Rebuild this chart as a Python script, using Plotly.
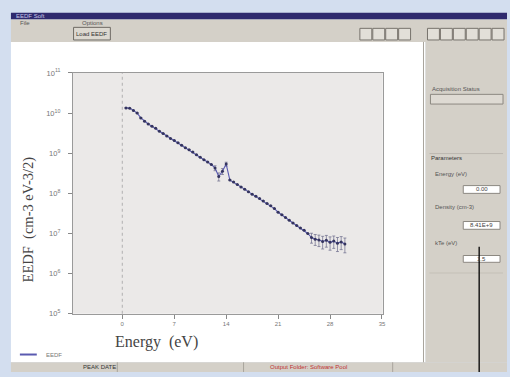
import plotly.graph_objects as go

# ---- data ----
energy_eV = [0.5, 1.0, 1.5, 2.0, 2.5, 3.0, 3.5, 4.0, 4.5, 5.0,
             5.5, 6.0, 6.5, 7.0, 7.5, 8.0, 8.5, 9.0, 9.5, 10.0,
             10.5, 11.0, 11.5, 12.0, 12.5, 13.0, 13.5, 14.0, 14.5, 15.0,
             15.5, 16.0, 16.5, 17.0, 17.5, 18.0, 18.5, 19.0, 19.5, 20.0,
             20.5, 21.0, 21.5, 22.0, 22.5, 23.0, 23.5, 24.0, 24.5, 25.0,
             25.5, 26.0, 26.5, 27.0, 27.5, 28.0, 28.5, 29.0, 29.5, 30.0]
eedf = [1.35e10, 1.32e10, 1.17e10, 1.00e10, 7.59e9, 6.31e9, 5.37e9, 4.68e9, 4.17e9, 3.55e9,
        3.09e9, 2.69e9, 2.34e9, 2.09e9, 1.82e9, 1.58e9, 1.38e9, 1.23e9, 1.07e9, 9.12e8,
        7.94e8, 6.92e8, 6.03e8, 5.25e8, 4.27e8, 2.63e8, 3.55e8, 5.37e8, 2.14e8, 1.91e8,
        1.66e8, 1.45e8, 1.26e8, 1.10e8, 9.55e7, 8.51e7, 7.41e7, 6.46e7, 5.62e7, 4.90e7,
        4.17e7, 3.39e7, 2.95e7, 2.51e7, 2.14e7, 1.82e7, 1.58e7, 1.38e7, 1.20e7, 1.00e7,
        7.94e6, 7.24e6, 6.92e6, 6.31e6, 6.76e6, 6.03e6, 6.46e6, 5.75e6, 6.17e6, 5.50e6]
eedf_err = [0, 0, 0, 0, 0, 0, 0, 0, 0, 0,
            0, 0, 0, 0, 0, 0, 0, 0, 0, 0,
            0, 0, 0, 0, 6e7, 6e7, 6e7, 6e7, 0, 0,
            0, 0, 0, 0, 0, 0, 0, 0, 0, 0,
            0, 0, 0, 0, 0, 0, 0, 0, 0, 0,
            2.2e6, 2.2e6, 2.2e6, 2.2e6, 2.2e6, 2.2e6, 2.2e6, 2.2e6, 2.2e6, 2.2e6]
x_ticks = [0, 7, 14, 21, 28, 35]

W, H = 510, 377
def X(p): return p / W
def Y(p): return 1 - p / H

fig = go.Figure()
fig.add_trace(go.Scatter(
    x=energy_eV, y=eedf, mode="lines+markers", name="EEDF",
    line=dict(color="#5a5ab0", width=1.1),
    marker=dict(color="#34345e", size=3),
    error_y=dict(type="data", array=eedf_err, color="#6a6a8a", thickness=0.7, width=1.5),
    showlegend=False, hoverinfo="skip",
))

shapes = []
def rect(x0, y0, x1, y1, fill, line=None, lw=0):
    shapes.append(dict(type="rect", xref="paper", yref="paper",
                       x0=X(x0), x1=X(x1), y0=Y(y1), y1=Y(y0),
                       fillcolor=fill, line=dict(color=line or fill, width=lw), layer="below"))
def hline(x0, x1, y, color, w=1):
    shapes.append(dict(type="line", xref="paper", yref="paper",
                       x0=X(x0), x1=X(x1), y0=Y(y), y1=Y(y), line=dict(color=color, width=w)))
def vline(x, y0, y1, color, w=1):
    shapes.append(dict(type="line", xref="paper", yref="paper",
                       x0=X(x), x1=X(x), y0=Y(y0), y1=Y(y1), line=dict(color=color, width=w)))

GRAY = "#d4d0c8"
# window frame
rect(11, 7, 510, 14, "#2f2a6e")
rect(11, 14, 510, 37, GRAY)
rect(11, 37, 428, 367, "#ffffff")
rect(73, 69, 385, 317, "#ebe9e8")   # plot background
rect(428, 37, 510, 367, GRAY)
vline(426, 37, 367, "#a8a49c")
rect(11, 367, 510, 377, GRAY)
vline(118, 367, 377, "#a8a49c")
vline(245, 367, 377, "#a8a49c")
vline(395, 367, 377, "#a8a49c")
# load button
rect(74, 22, 111, 35, "#dcd8d0", "#6e6a64", 1)
# toolbar buttons
for x0 in [362, 375, 388, 401]:
    rect(x0, 23, x0 + 12, 35, "#e2dfd8", "#77736c", 1)
for x0 in [430, 443, 456, 469, 482, 495]:
    rect(x0, 23, x0 + 12, 35, "#e2dfd8", "#77736c", 1)
# right panel widgets
rect(433, 91, 506, 101, "#dedad3", "#8c8881", 1)
hline(432, 506, 152, "#bcb8b0")
rect(466, 185, 503, 193, "#ffffff", "#8c8881", 1)
rect(466, 222, 503, 230, "#ffffff", "#8c8881", 1)
rect(466, 257, 503, 264, "#ffffff", "#8c8881", 1)
hline(432, 506, 275, "#c4c0b8")
# legend sample
hline(20, 37, 359, "#5a5ab0", 2)
# pointer line (annotation in the source)
vline(482, 248, 377, "#000000", 1.3)

fig.update_layout(shapes=shapes)
fig.add_vline(x=0, line=dict(color="#b0b0b0", width=1, dash="dot"))

ui = "Liberation Sans"
def txt(x, y, s, size=6, color="#555555", anchor="left", font=ui, angle=0):
    fig.add_annotation(x=X(x), y=Y(y), xref="paper", yref="paper", text=s, showarrow=False,
                       xanchor=anchor, yanchor="middle", textangle=angle,
                       font=dict(family=font, size=size, color=color))

txt(14, 10.5, "EEDF Soft", 6, "#c8c8e8")
txt(18, 18, "File", 6)
txt(80, 18, "Options", 6)
txt(92.5, 28.5, "Load EEDF", 6, "#333333", "center")
txt(433, 86, "Acquisition Status", 6)
txt(432, 157, "Parameters", 6, "#333333")
txt(436, 173, "Energy (eV)", 6)
txt(484.5, 189, "0.00", 6, "#444444", "center")
txt(436, 207, "Density (cm-3)", 6)
txt(484.5, 226, "8.41E+9", 6, "#444444", "center")
txt(436, 244, "kTe (eV)", 6)
txt(484.5, 260.5, "1.5", 6, "#444444", "center")
txt(100, 372, "PEAK DATE", 6, "#333333", "center")
txt(310, 372, "Output Folder: Software Pool", 6, "#c03030", "center")
txt(44, 359, "EEDF", 6, "#777777")
txt(157, 346, "Energy  (eV)", 16, "#444444", "center", "Liberation Serif")
txt(29, 220, "EEDF  (cm-3 eV-3/2)", 14.5, "#444444", "center", "Liberation Serif", -90)

fig.update_layout(
    width=W, height=H, autosize=False,
    margin=dict(l=0, r=0, t=0, b=0),
    paper_bgcolor="#d3deef", plot_bgcolor="rgba(0,0,0,0)",
    showlegend=False, hovermode=False,
    xaxis=dict(domain=[X(73), X(385)], range=[-6.7, 35.1], tickvals=x_ticks,
               ticks="outside", ticklen=4, tickcolor="#888888",
               showline=True, linecolor="#9a9a9a", mirror=True, showgrid=False, zeroline=False,
               tickfont=dict(family=ui, size=6, color="#777777")),
    yaxis=dict(domain=[Y(317), Y(69)], type="log", range=[5, 11], dtick=1,
               exponentformat="power", ticks="outside", ticklen=4, tickcolor="#888888",
               showline=True, linecolor="#9a9a9a", mirror=True, showgrid=False, zeroline=False,
               ticklabelstandoff=6,
               tickfont=dict(family=ui, size=6, color="#777777")),
)

fig.write_html("out.html", config={"displayModeBar": False},
               post_script="document.body.style.margin='0';document.body.style.overflow='hidden';")
